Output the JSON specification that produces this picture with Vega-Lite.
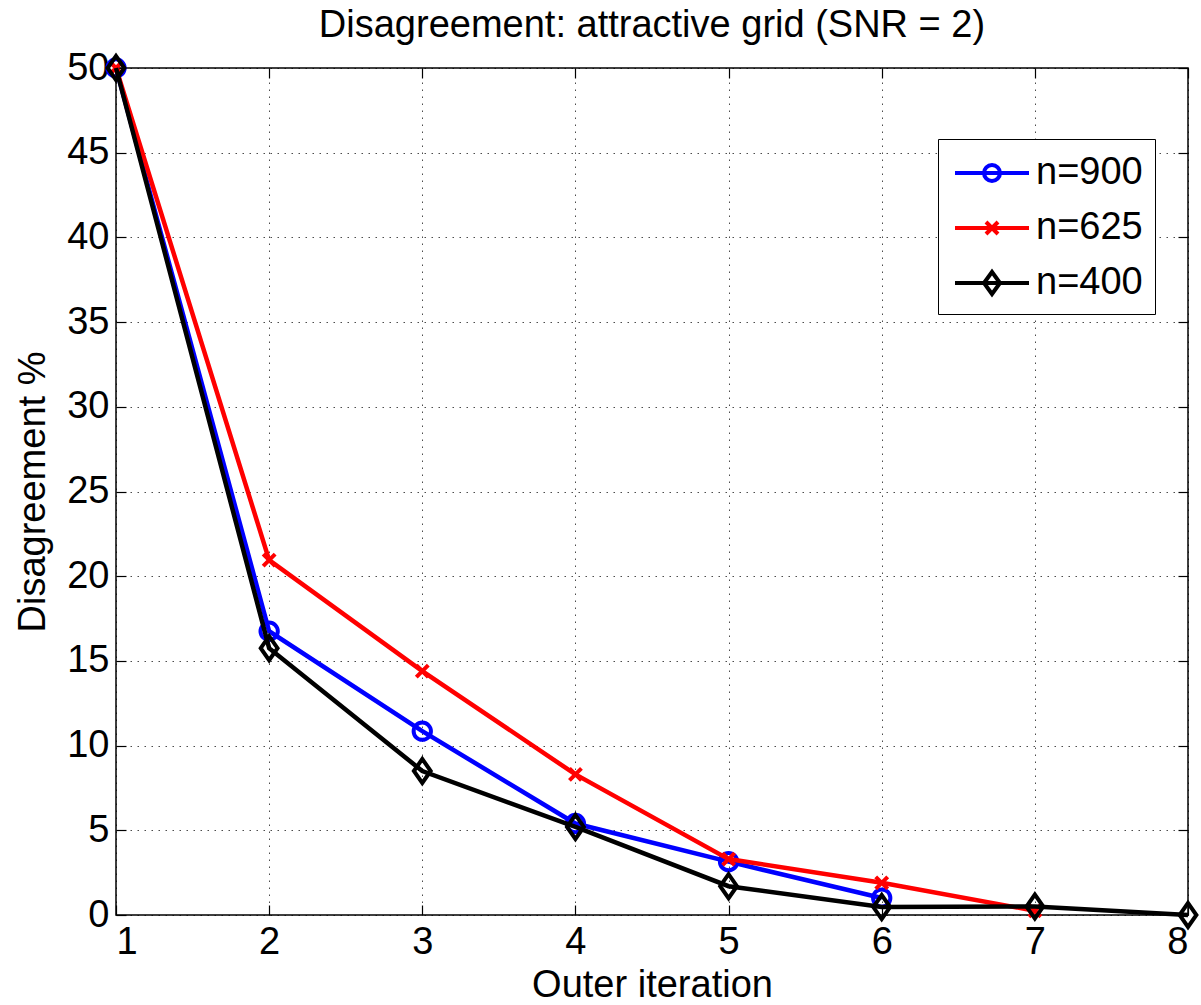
{
  "$schema": "https://vega.github.io/schema/vega-lite/v6.json",
  "width": 1072,
  "height": 847,
  "autosize": "none",
  "padding": {"left": 116, "top": 68, "right": 13, "bottom": 90},
  "background": "white",
  "title": {"text": "Disagreement: attractive grid (SNR = 2)", "fontSize": 38, "font": "Liberation Sans", "fontWeight": "normal", "color": "black", "offset": 13, "dy": 40, "baseline": "alphabetic", "anchor": "middle"},
  "config": {
    "font": "Liberation Sans",
    "view": {"stroke": "black", "strokeWidth": 1.5},
    "axis": {"labelFontSize": 38, "labelColor": "black", "labelFont": "Liberation Sans", "titleFontSize": 38, "titleFontWeight": "normal", "titleColor": "black", "titleFont": "Liberation Sans", "tickColor": "black", "tickWidth": 1.2, "tickSize": -10, "domain": false, "gridColor": "black", "gridOpacity": 0.7, "gridDash": [1.5, 5.5], "gridWidth": 1},
    "legend": {"labelFontSize": 38, "labelFont": "Liberation Sans", "labelColor": "black"}
  },
  "data": {"values": [
    {"it": 1, "pct": 50, "n": "n=900"},
    {"it": 2, "pct": 16.75, "n": "n=900"},
    {"it": 3, "pct": 10.85, "n": "n=900"},
    {"it": 4, "pct": 5.4, "n": "n=900"},
    {"it": 5, "pct": 3.15, "n": "n=900"},
    {"it": 6, "pct": 1.0, "n": "n=900"},
    {"it": 1, "pct": 50, "n": "n=625"},
    {"it": 2, "pct": 20.95, "n": "n=625"},
    {"it": 3, "pct": 14.4, "n": "n=625"},
    {"it": 4, "pct": 8.3, "n": "n=625"},
    {"it": 5, "pct": 3.3, "n": "n=625"},
    {"it": 6, "pct": 1.9, "n": "n=625"},
    {"it": 7, "pct": 0.25, "n": "n=625"},
    {"it": 1, "pct": 50, "n": "n=400"},
    {"it": 2, "pct": 15.75, "n": "n=400"},
    {"it": 3, "pct": 8.5, "n": "n=400"},
    {"it": 4, "pct": 5.2, "n": "n=400"},
    {"it": 5, "pct": 1.7, "n": "n=400"},
    {"it": 6, "pct": 0.47, "n": "n=400"},
    {"it": 7, "pct": 0.5, "n": "n=400"},
    {"it": 8, "pct": 0, "n": "n=400"}
  ]},
  "resolve": {"axis": {"x": "independent", "y": "independent"}},
  "layer": [
    {
      "mark": {"type": "point", "filled": false, "clip": false, "opacity": 1},
      "transform": [{"filter": "datum.it > 100"}],
      "encoding": {
        "x": {"field": "it", "type": "quantitative", "scale": {"domain": [1, 8], "nice": false, "zero": false}, "axis": {"orient": "bottom", "values": [1,2,3,4,5,6,7,8], "format": "d", "title": "Outer iteration", "labelPadding": 18, "titlePadding": 5, "grid": true}},
        "y": {"field": "pct", "type": "quantitative", "scale": {"domain": [0, 50], "nice": false}, "axis": {"orient": "left", "values": [0,5,10,15,20,25,30,35,40,45,50], "title": "Disagreement %", "labelPadding": 17, "titlePadding": 14, "grid": true}},
        "color": {"field": "n", "type": "nominal", "scale": {"domain": ["n=900", "n=625", "n=400"], "range": ["#0000ff", "#ff0000", "#000000"]},
          "legend": {"title": null, "orient": "none", "legendX": 822, "legendY": 71, "strokeColor": "black", "fillColor": "white", "padding": 12, "symbolSize": 1600, "symbolStrokeWidth": 4, "symbolOpacity": 1, "labelOffset": 42, "rowPadding": 14, "symbolFillColor": "transparent"}},
        "shape": {"field": "n", "type": "nominal", "scale": {"domain": ["n=900", "n=625", "n=400"], "range": [
          "M-0.85,0H2.85M0.6,0A0.4,0.4,0,1,0,1.4,0A0.4,0.4,0,1,0,0.6,0Z",
          "M-0.85,0H2.85M0.7,-0.3L1.3,0.3M0.7,0.3L1.3,-0.3",
          "M-0.85,0H2.85M0.6,0L1,-0.55L1.4,0L1,0.55Z"
        ]}}
      }
    },
    {
      "mark": {"type": "point", "clip": false},
      "transform": [{"filter": "datum.it > 100"}],
      "encoding": {
        "x": {"field": "it", "type": "quantitative", "axis": {"orient": "top", "values": [1,2,3,4,5,6,7,8], "labels": false, "title": null, "grid": false}},
        "y": {"field": "pct", "type": "quantitative", "axis": {"orient": "right", "values": [0,5,10,15,20,25,30,35,40,45,50], "labels": false, "title": null, "grid": false}}
      }
    },
    {
      "transform": [{"filter": "datum.n == 'n=900'"}],
      "layer": [
        {"mark": {"type": "line", "color": "#0000ff", "strokeWidth": 4.5, "clip": false}, "encoding": {"x": {"field": "it", "type": "quantitative", "axis": null}, "y": {"field": "pct", "type": "quantitative", "axis": null}}},
        {"mark": {"type": "point", "shape": "circle", "size": 300, "filled": false, "color": "#0000ff", "strokeWidth": 4, "opacity": 1, "clip": false}, "encoding": {"x": {"field": "it", "type": "quantitative", "axis": null}, "y": {"field": "pct", "type": "quantitative", "axis": null}}}
      ]
    },
    {
      "transform": [{"filter": "datum.n == 'n=625'"}],
      "layer": [
        {"mark": {"type": "line", "color": "#ff0000", "strokeWidth": 4.5, "clip": false}, "encoding": {"x": {"field": "it", "type": "quantitative", "axis": null}, "y": {"field": "pct", "type": "quantitative", "axis": null}}},
        {"mark": {"type": "point", "shape": "M-1,-1L1,1M-1,1L1,-1", "size": 144, "filled": false, "color": "#ff0000", "strokeWidth": 4, "opacity": 1, "clip": false}, "encoding": {"x": {"field": "it", "type": "quantitative", "axis": null}, "y": {"field": "pct", "type": "quantitative", "axis": null}}}
      ]
    },
    {
      "transform": [{"filter": "datum.n == 'n=400'"}],
      "layer": [
        {"mark": {"type": "line", "color": "#000000", "strokeWidth": 4.5, "clip": false}, "encoding": {"x": {"field": "it", "type": "quantitative", "axis": null}, "y": {"field": "pct", "type": "quantitative", "axis": null}}},
        {"mark": {"type": "point", "shape": "M-0.7,0L0,-1L0.7,0L0,1Z", "size": 576, "filled": false, "color": "#000000", "strokeWidth": 4, "opacity": 1, "clip": false}, "encoding": {"x": {"field": "it", "type": "quantitative", "axis": null}, "y": {"field": "pct", "type": "quantitative", "axis": null}}}
      ]
    }
  ]
}
